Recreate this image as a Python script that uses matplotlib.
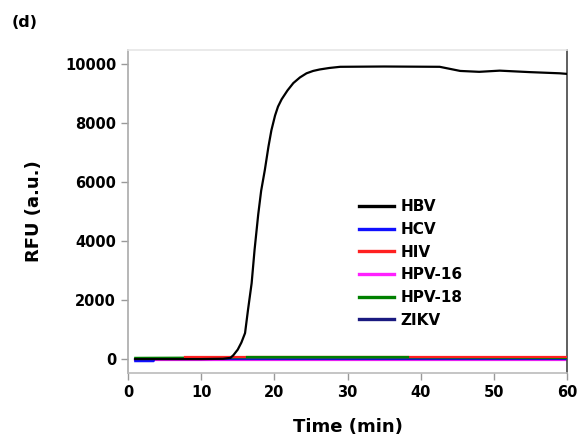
import matplotlib
matplotlib.use("Agg")
import matplotlib.pyplot as plt

plt.rcParams['font.family'] = ['DejaVu Sans']
plt.rcParams['font.weight'] = 'bold'

# Data
hbv_t = [1, 5, 10, 13, 14.0, 14.4, 15.0, 15.5, 16.0, 16.4, 16.9, 17.3, 17.8, 18.2, 18.7,
         19.2, 19.6, 20.1, 20.5, 21.0, 21.8, 22.6, 23.5, 24.4, 25.3, 26.2, 27.5, 29, 35,
         42.6, 44.0, 45.4, 48, 50.8, 54.9, 59, 60]
hbv_v = [0, 0, 0, 10, 40, 130, 320, 560, 880, 1660, 2570, 3700, 4900, 5700, 6400,
         7200, 7750, 8250, 8550, 8800, 9100, 9350, 9540, 9680, 9760, 9810, 9860, 9900, 9910,
         9900, 9830, 9760, 9730, 9770, 9720, 9680, 9660]

hcv_t = [1, 3.5, 3.6, 60]
hcv_v = [-70, -70, 20, 20]

zikv_t = [1, 60]
zikv_v = [0, 0]

hpv16_t = [1, 60]
hpv16_v = [-20, -20]

hiv_t = [7.8, 16.0, 38.5, 60]
hiv_v = [70, 70, 70, 70]

hpv18_t = [1, 16.2, 38.3, 60]
hpv18_v = [40, 55, 55, 40]

series = [
    ("HBV", hbv_t, hbv_v, "black"),
    ("HCV", hcv_t, hcv_v, "#1010ff"),
    ("HIV", hiv_t, hiv_v, "#ff2020"),
    ("HPV-16", hpv16_t, hpv16_v, "#ff20ff"),
    ("HPV-18", hpv18_t, hpv18_v, "#008000"),
    ("ZIKV", zikv_t, zikv_v, "#1a1a80"),
]

x_ticks = [0, 10, 20, 30, 40, 50, 60]
y_ticks = [0, 2000, 4000, 6000, 8000, 10000]

fig = plt.figure(figsize=(5.87, 4.41), dpi=100)
ax = fig.add_axes([0.218, 0.154, 0.748, 0.733])

zorders = {"HBV": 6, "HCV": 3, "HIV": 4, "HPV-16": 2, "HPV-18": 3.5, "ZIKV": 2.5}
for name, t, v, c in series:
    ax.plot(t, v, color=c, lw=1.6, label=name, zorder=zorders[name])

# green on top in the middle section (as seen in reference)
ax.plot(hpv18_t[1:3], hpv18_v[1:3], color="#008000", lw=1.6, zorder=4.5)

ax.set_xlim(0, 60)
ax.set_ylim(-475, 10475)
ax.set_xticks(x_ticks)
ax.set_yticks(y_ticks)
ax.tick_params(axis='both', labelsize=10.5, colors='#999999', labelcolor='black',
               length=5, width=1, direction='out')
for lab in ax.get_xticklabels() + ax.get_yticklabels():
    lab.set_fontweight('bold')

ax.spines['left'].set_color('#aaaaaa')
ax.spines['bottom'].set_color('#bbbbbb')
ax.spines['top'].set_color('#e6e6e6')
ax.spines['right'].set_color('#444444')
for s in ax.spines.values():
    s.set_linewidth(1.2)

ax.set_xlabel("Time (min)", fontsize=13, fontweight='bold', labelpad=13)
ax.set_ylabel("RFU (a.u.)", fontsize=13, fontweight='bold', labelpad=16)

leg = ax.legend(loc='upper left', bbox_to_anchor=(0.513, 0.556), frameon=False,
                fontsize=11, handlelength=2.3, handletextpad=0.4,
                labelspacing=0.5, borderaxespad=0)
for txt in leg.get_texts():
    txt.set_fontweight('bold')
for h in leg.legend_handles:
    h.set_linewidth(2.4)

fig.text(0.02, 0.95, "(d)", fontsize=11.5, fontweight='bold', ha='left', va='center')

fig.savefig("out.png", dpi=100)
